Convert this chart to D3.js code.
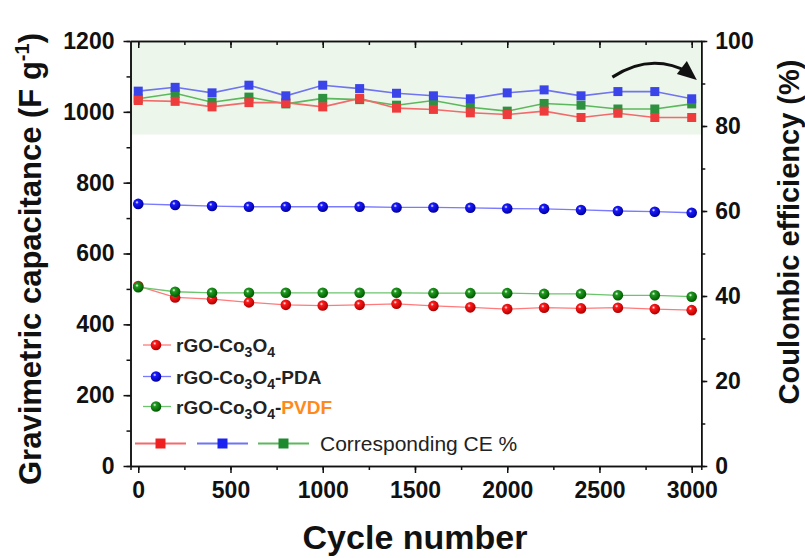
<!DOCTYPE html>
<html>
<head>
<meta charset="utf-8">
<script src="https://cdn.jsdelivr.net/npm/d3@7"></script>
<style>
  body { margin: 0; background: #fff; }
  svg { display: block; font-family: "Liberation Sans", Arial, sans-serif; }
</style>
</head>
<body>
<svg id="chart" width="805" height="558"></svg>
<script>
// cycle numbers (x)
var cycles = [0, 200, 400, 600, 800, 1000, 1200, 1400, 1600, 1800, 2000, 2200, 2400, 2600, 2800, 3000];

// gravimetric capacitance, F g-1 (left axis)
var capRed   = [508, 476, 471, 462, 455, 453, 455, 458, 452, 448, 443, 447, 445, 447, 443, 440];
var capBlue  = [740, 737, 734, 732, 732, 732, 732, 730, 730, 729, 727, 726, 723, 720, 718, 715];
var capGreen = [505, 492, 489, 489, 489, 489, 489, 489, 488, 488, 488, 486, 486, 482, 482, 478];

// coulombic efficiency, % (right axis)
var ceRed   = [86.0, 85.8, 84.5, 85.5, 85.5, 84.5, 86.5, 84.2, 83.9, 83.1, 82.7, 83.5, 82.0, 83.0, 82.0, 82.0];
var ceGreen = [86.4, 87.7, 85.6, 86.8, 85.2, 86.5, 86.2, 84.9, 86.0, 84.4, 83.5, 85.3, 84.9, 84.0, 84.0, 85.2];
var ceBlue  = [88.2, 89.1, 87.8, 89.6, 87.1, 89.6, 88.8, 87.7, 87.1, 86.4, 87.8, 88.5, 87.1, 88.1, 88.1, 86.4];

var xTicks = [0, 500, 1000, 1500, 2000, 2500, 3000];
var yLeftTicks = [0, 200, 400, 600, 800, 1000, 1200];
var yRightTicks = [0, 20, 40, 60, 80, 100];

var svg = d3.select('#chart');

var plotL = 130.5, plotR = 701.3, plotT = 41, plotB = 466;

var xScale = d3.scaleLinear().domain([-42, 3052]).range([plotL, plotR]);
var yLeft = d3.scaleLinear().domain([0, 1200]).range([plotB, plotT]);
var yRight = d3.scaleLinear().domain([0, 100]).range([plotB, plotT]);

// gradients for the ball markers
var defs = svg.append('defs');
function ball(id, base, dark) {
  var g = defs.append('radialGradient').attr('id', id)
    .attr('cx', '38%').attr('cy', '35%').attr('r', '65%');
  g.append('stop').attr('offset', '0%').attr('stop-color', '#ffffff');
  g.append('stop').attr('offset', '25%').attr('stop-color', base);
  g.append('stop').attr('offset', '100%').attr('stop-color', dark);
}
ball('ballRed', '#ff1a1a', '#b00000');
ball('ballBlue', '#1a1aff', '#0000a0');
ball('ballGreen', '#1f9a1f', '#005a00');

// shaded CE region
svg.append('rect')
  .attr('x', plotL).attr('y', yRight(100))
  .attr('width', plotR - plotL).attr('height', yRight(78) - yRight(100))
  .attr('fill', '#edf6eb');

// frame + axes
function styleAxis(g) {
  g.selectAll('path, line').attr('stroke', '#111').attr('stroke-width', 1.5);
  g.selectAll('text').attr('fill', '#111').style('font-size', '23px').style('font-weight', 'bold');
}
var fmt = d3.format('d');

svg.append('g').attr('transform', 'translate(0,' + plotB + ')')
  .call(d3.axisBottom(xScale).tickValues(d3.range(0, 3001, 250)).tickSize(4).tickFormat(''))
  .call(styleAxis);
svg.append('g').attr('transform', 'translate(0,' + plotB + ')')
  .call(d3.axisBottom(xScale).tickValues(xTicks).tickSize(7).tickPadding(9).tickSizeOuter(0).tickFormat(fmt))
  .call(styleAxis);

svg.append('g').attr('transform', 'translate(0,' + plotT + ')')
  .call(d3.axisTop(xScale).tickValues(d3.range(0, 3001, 250)).tickSize(-4).tickFormat('').tickSizeOuter(0))
  .call(styleAxis);
svg.append('g').attr('transform', 'translate(0,' + plotT + ')')
  .call(d3.axisTop(xScale).tickValues(xTicks).tickSize(-7).tickFormat('').tickSizeOuter(0))
  .call(styleAxis);

svg.append('g').attr('transform', 'translate(' + plotL + ',0)')
  .call(d3.axisLeft(yLeft).tickValues(d3.range(0, 1201, 100)).tickSize(4).tickFormat('').tickSizeOuter(0))
  .call(styleAxis);
svg.append('g').attr('transform', 'translate(' + plotL + ',0)')
  .call(d3.axisLeft(yLeft).tickValues(yLeftTicks).tickSize(7).tickPadding(9).tickSizeOuter(0).tickFormat(fmt))
  .call(styleAxis);

svg.append('g').attr('transform', 'translate(' + plotR + ',0)')
  .call(d3.axisRight(yRight).tickValues(d3.range(0, 101, 10)).tickSize(4).tickFormat('').tickSizeOuter(0))
  .call(styleAxis);
svg.append('g').attr('transform', 'translate(' + plotR + ',0)')
  .call(d3.axisRight(yRight).tickValues(yRightTicks).tickSize(6).tickPadding(8).tickSizeOuter(0).tickFormat(fmt))
  .call(styleAxis);

// CE series (squares)
var ceSeries = [
  { vals: ceGreen, line: '#5cb85c', fill: '#2e9140' },
  { vals: ceRed, line: '#f26a6a', fill: '#ee3b3b' },
  { vals: ceBlue, line: '#6f74f0', fill: '#3a44e8' }
];
var line = d3.line();
ceSeries.forEach(function (s) {
  var pts = cycles.map(function (c, i) { return [xScale(c), yRight(s.vals[i])]; });
  svg.append('path').attr('d', line(pts)).attr('fill', 'none')
    .attr('stroke', s.line).attr('stroke-width', 1.6);
  svg.append('g').selectAll('rect').data(pts).join('rect')
    .attr('x', function (d) { return d[0] - 4.5; })
    .attr('y', function (d) { return d[1] - 4.5; })
    .attr('width', 9).attr('height', 9)
    .attr('fill', s.fill);
});

// capacitance series (balls)
var capSeries = [
  { vals: capRed, line: '#ff7a7a', grad: 'ballRed' },
  { vals: capBlue, line: '#7a7aff', grad: 'ballBlue' },
  { vals: capGreen, line: '#6cc46c', grad: 'ballGreen' }
];
capSeries.forEach(function (s) {
  var pts = cycles.map(function (c, i) { return [xScale(c), yLeft(s.vals[i])]; });
  svg.append('path').attr('d', line(pts)).attr('fill', 'none')
    .attr('stroke', s.line).attr('stroke-width', 1.3);
  svg.append('g').selectAll('circle').data(pts).join('circle')
    .attr('cx', function (d) { return d[0]; })
    .attr('cy', function (d) { return d[1]; })
    .attr('r', 5.3)
    .attr('fill', 'url(#' + s.grad + ')');
});

// curved arrow
var a0 = [xScale(2570), yRight(91.5)], a1 = [xScale(2780), yRight(97.5)], a2 = [xScale(2990), yRight(92.5)];
svg.append('path')
  .attr('d', 'M' + a0 + ' Q' + a1 + ' ' + a2)
  .attr('fill', 'none').attr('stroke', '#111').attr('stroke-width', 3);
svg.append('path')
  .attr('d', 'M' + (a2[0] + 7) + ',' + (a2[1] + 7) + ' L' + (a2[0] - 13) + ',' + (a2[1] + 1) + ' L' + (a2[0] - 3) + ',' + (a2[1] - 12) + 'Z')
  .attr('fill', '#111');

// legend
var legendRows = [
  { grad: 'ballRed', line: '#ff7a7a', y: 345, parts: ['rGO-Co', '3', 'O', '4'] },
  { grad: 'ballBlue', line: '#7a7aff', y: 376.5, parts: ['rGO-Co', '3', 'O', '4', '-PDA'] },
  { grad: 'ballGreen', line: '#6cc46c', y: 406.5, parts: ['rGO-Co', '3', 'O', '4', '-', 'PVDF'] }
];
legendRows.forEach(function (r) {
  svg.append('line').attr('x1', 143).attr('x2', 171).attr('y1', r.y).attr('y2', r.y)
    .attr('stroke', r.line).attr('stroke-width', 1.3);
  svg.append('circle').attr('cx', 156).attr('cy', r.y).attr('r', 5.3).attr('fill', 'url(#' + r.grad + ')');
  var t = svg.append('text').attr('x', 176).attr('y', r.y + 7)
    .style('font-size', '19px').style('font-weight', 'bold').attr('fill', '#222');
  r.parts.forEach(function (p, i) {
    var ts = t.append('tspan').text(p);
    if (p === '3' || p === '4') ts.attr('dy', 5).style('font-size', '14px');
    else if (i > 0 && (r.parts[i - 1] === '3' || r.parts[i - 1] === '4')) ts.attr('dy', -5);
    if (p === 'PVDF') ts.attr('fill', '#ff8a1c');
  });
});

var ceLegend = [
  { line: '#f26a6a', fill: '#ee2020', x1: 135, x2: 186 },
  { line: '#6f74f0', fill: '#1a22f0', x1: 197, x2: 248 },
  { line: '#5cb85c', fill: '#1e8a30', x1: 258, x2: 309 }
];
ceLegend.forEach(function (l) {
  svg.append('line').attr('x1', l.x1).attr('x2', l.x2).attr('y1', 443.5).attr('y2', 443.5)
    .attr('stroke', l.line).attr('stroke-width', 1.8);
  svg.append('rect').attr('x', (l.x1 + l.x2) / 2 - 5).attr('y', 438.5).attr('width', 10).attr('height', 10)
    .attr('fill', l.fill);
});
svg.append('text').attr('x', 320).attr('y', 451)
  .style('font-size', '21px').attr('fill', '#222')
  .text('Corresponding CE %');

// axis titles
var yl = svg.append('text')
  .attr('transform', 'translate(41,485) rotate(-90)')
  .style('font-size', '31px').style('font-weight', 'bold').attr('fill', '#111');
yl.append('tspan').text('Gravimetric capacitance (F g');
yl.append('tspan').text('-1').attr('dy', -12).style('font-size', '20px');
yl.append('tspan').text(')').attr('dy', 12);

svg.append('text')
  .attr('transform', 'translate(799,232) rotate(-90)')
  .attr('text-anchor', 'middle')
  .style('font-size', '29px').style('font-weight', 'bold').attr('fill', '#111')
  .text('Coulombic efficiency (%)');

svg.append('text')
  .attr('x', 415).attr('y', 549).attr('text-anchor', 'middle')
  .style('font-size', '34px').style('font-weight', 'bold').attr('fill', '#111')
  .text('Cycle number');
</script>
</body>
</html>
